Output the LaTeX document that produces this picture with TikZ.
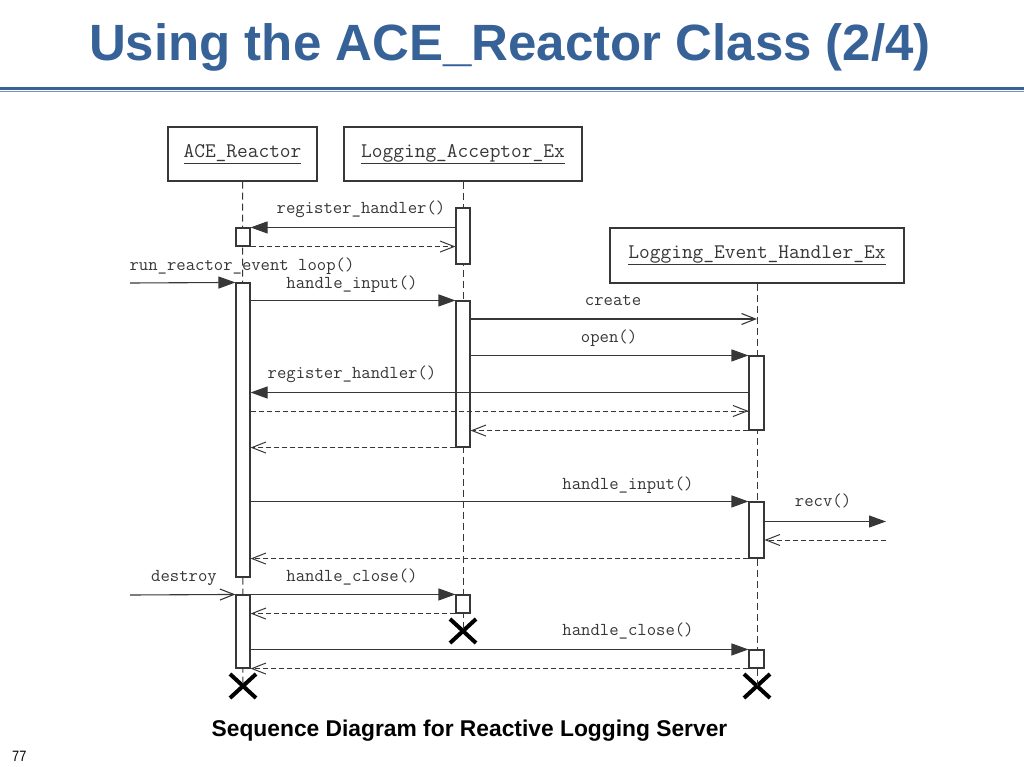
\documentclass[tikz,border=0pt]{standalone}
\usepackage{fontspec}
\setmainfont{Liberation Sans}
\newfontfamily\titlefont{Liberation Sans}
\newfontfamily\narrowfont[FakeStretch=0.85]{Liberation Sans}
\definecolor{slideblue}{RGB}{54, 98, 152}
\definecolor{seqgray}{RGB}{55, 55, 55}
\usepackage{tikz}
\usetikzlibrary{arrows.meta, shapes.misc, positioning}

\tikzset{
  objbox/.style={draw=seqgray, line width=1.3pt, inner sep=0pt, font=\ttfamily\fontsize{20.8}{22}\selectfont, text=seqgray},
  actbox/.style={draw=seqgray, fill=white, line width=1.1pt, minimum width=14pt, inner sep=0pt},
  lifeline/.style={draw=seqgray, line width=1pt, dash pattern=on 7pt off 4pt},
  call/.style={draw=seqgray, line width=1.1pt, -{Triangle[length=17pt, width=12pt]}},
  reply/.style={draw=seqgray, line width=1pt, dash pattern=on 5pt off 3pt, -{Straight Barb[length=14pt, width=11pt]}},
  newmsg/.style={draw=seqgray, line width=1.1pt, -{Straight Barb[length=14pt, width=11pt]}},
  msglabel/.style={font=\ttfamily\fontsize{18.2}{20}\selectfont, text=seqgray, anchor=base, inner sep=0pt},
  kill/.style={cross out, draw=black, line width=4pt, minimum width=22pt, minimum height=20pt, inner sep=0pt}
}

\begin{document}
\begin{tikzpicture}[x=1pt, y=-1pt]
  \useasboundingbox[fill=white] (0,0) rectangle (1024,767);

  % Title
  \node[anchor=base, text=slideblue, font=\titlefont\bfseries\fontsize{51}{60}\selectfont, inner sep=0pt] (title) at (510,61) {Using the ACE\_Reactor Class (2/4)};
  \draw[slideblue, line width=2.5pt] (0,88.3) -- (1024,88.3);
  \draw[slideblue!70, line width=1.3pt] (0,91.6) -- (1024,91.6);

  % Objects
  \node[objbox, minimum width=149pt, minimum height=54pt] (ace) at (242.5,154) {\underline{ACE\_Reactor}};
  \node[objbox, minimum width=238pt, minimum height=54pt] (acc) at (463,154) {\underline{Logging\_Acceptor\_Ex}};
  \node[objbox, minimum width=294pt, minimum height=55pt] (evh) at (757,255.5) {\underline{Logging\_Event\_Handler\_Ex}};

  % Ends of the lifelines
  \node[kill] (xace) at (243,686) {};
  \node[kill] (xacc) at (463,631) {};
  \node[kill] (xevh) at (757,686) {};

  % Lifelines
  \draw[lifeline] (ace.south) -- (xace.center);
  \draw[lifeline] (acc.south) -- (xacc.center);
  \draw[lifeline] (evh.south) -- (xevh.center);

  % Activations
  \node[actbox, minimum height=18pt] (ace1) at (243,237) {};
  \node[actbox, minimum height=294pt] (ace2) at (243,430) {};
  \node[actbox, minimum height=73pt] (ace3) at (243,631.5) {};
  \node[actbox, minimum height=56pt] (acc1) at (463,236) {};
  \node[actbox, minimum height=146pt] (acc2) at (463,374) {};
  \node[actbox, minimum height=18pt] (acc3) at (463,604) {};
  \node[actbox, minimum width=15pt, minimum height=74pt] (evh1) at (756.5,393) {};
  \node[actbox, minimum width=15pt, minimum height=56pt] (evh2) at (756.5,530) {};
  \node[actbox, minimum width=15pt, minimum height=18pt] (evh3) at (756.5,659) {};

  % Outside ends
  \coordinate (loopin) at (130,283);
  \coordinate (destroyin) at (130,595);
  \coordinate (sockend) at (886,521.5);

  % Messages
  \draw[call] (acc1.west |- ace1.north) -- (ace1.north east);
  \draw[reply] (ace1.south east) -- (acc1.west |- ace1.south);
  \draw[call] (loopin) -- (ace2.north west);
  \draw[call] (ace2.east |- acc2.north) -- (acc2.north west);
  \draw[newmsg] (acc2.east |- 0,319) -- (evh.south |- 0,319);
  \draw[call] (acc2.east |- evh1.north) -- (evh1.north west);
  \draw[call] (evh1.west |- 0,392.5) -- (ace2.east |- 0,392.5);
  \draw[reply] (ace2.east |- 0,411) -- (evh1.west |- 0,411);
  \draw[reply] (evh1.south west) -- (acc2.east |- evh1.south);
  \draw[reply] (acc2.south west) -- (ace2.east |- acc2.south);
  \draw[call] (ace2.east |- evh2.north) -- (evh2.north west);
  \draw[call] (evh2.east |- sockend) -- (sockend);
  \draw[reply] (sockend |- 0,540) -- (evh2.east |- 0,540);
  \draw[reply] (evh2.south west) -- (ace2.east |- evh2.south);
  \draw[newmsg] (destroyin) -- (ace3.north west);
  \draw[call] (ace3.north east) -- (acc3.north west);
  \draw[reply] (acc3.south west) -- (ace3.east |- acc3.south);
  \draw[call] (ace3.east |- evh3.north) -- (evh3.north west);
  \draw[reply] (evh3.south west) -- (ace3.south east);

  % Message labels
  \node[msglabel] (l1) at (361,214) {register\_handler()};
  \node[msglabel] (l2) at (242,270) {run\_reactor\_event loop()};
  \node[msglabel] (l3) at (352,288) {handle\_input()};
  \node[msglabel] (l4) at (613,305) {create};
  \node[msglabel] (l5) at (609,342) {open()};
  \node[msglabel] (l6) at (352,378) {register\_handler()};
  \node[msglabel] (l7) at (628,489) {handle\_input()};
  \node[msglabel] (l8) at (823,506) {recv()};
  \node[msglabel] (l9) at (184,581) {destroy};
  \node[msglabel] (l10) at (352,581) {handle\_close()};
  \node[msglabel] (l11) at (628,635) {handle\_close()};

  % Caption and page number
  \node[anchor=base, font=\bfseries\fontsize{22.8}{26}\selectfont, inner sep=0pt] (caption) at (469.5,736) {Sequence Diagram for Reactive Logging Server};
  \node[anchor=base west, font=\narrowfont\fontsize{15}{18}\selectfont, inner sep=0pt] (pageno) at (12,761) {77};
\end{tikzpicture}
\end{document}
